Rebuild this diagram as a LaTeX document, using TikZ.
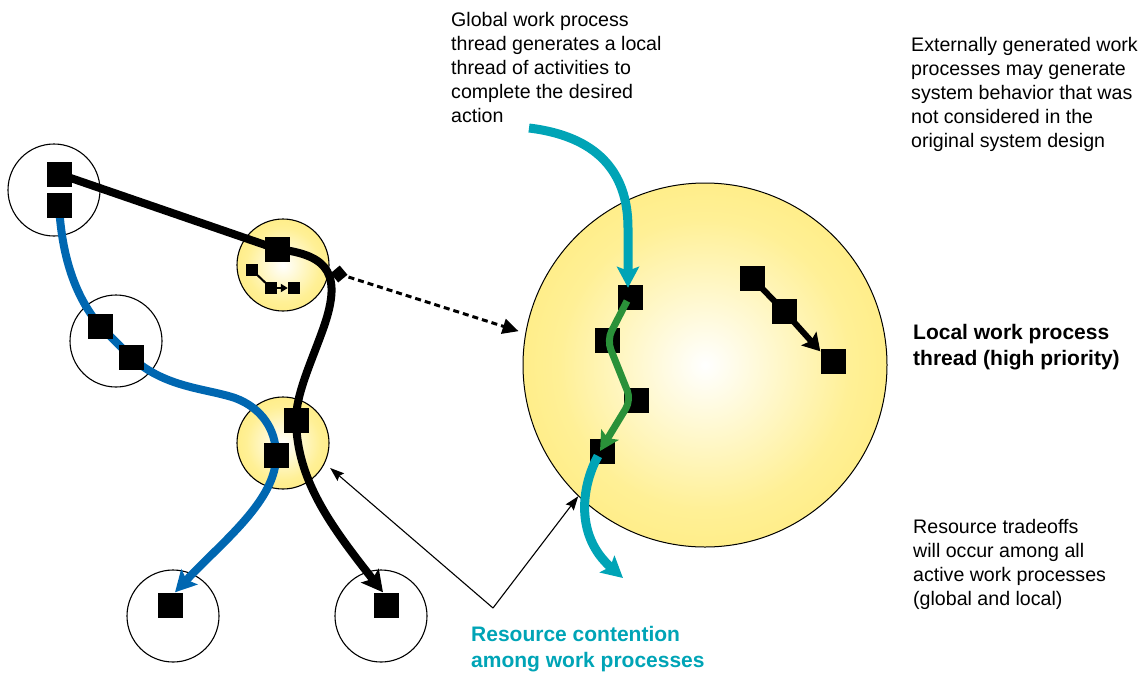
\documentclass[tikz,border=0pt]{standalone}
\usepackage{fontspec}
\setmainfont{Liberation Sans}
\usetikzlibrary{arrows.meta}
\definecolor{tealc}{RGB}{0,164,182}
\definecolor{bluec}{RGB}{0,103,177}
\definecolor{greenc}{RGB}{42,145,57}
\definecolor{yelc}{RGB}{255,228,85}
\definecolor{yelm}{RGB}{255,240,150}
\pgfdeclareradialshading{ysh}{\pgfpoint{0bp}{0bp}}{color(0bp)=(white); color(20bp)=(yelm); color(47bp)=(yelc); color(50bp)=(yelc)}
\pgfdeclarelayer{bg}
\pgfdeclarelayer{mid}
\pgfsetlayers{bg,mid,main}
\begin{document}
\begin{tikzpicture}[x=1pt,y=-1pt,
  ring/.style={circle, draw=black, line width=1.1pt, minimum size=92pt, inner sep=0pt},
  yring/.style={ring, shading=ysh},
  sq/.style={rectangle, fill=black, minimum size=25pt, inner sep=0pt},
  ssq/.style={rectangle, fill=black, minimum size=12pt, inner sep=0pt},
  blk/.style={line width=8pt, draw=black},
  blu/.style={line width=8pt, draw=bluec},
  tea/.style={line width=9pt, draw=tealc},
  grn/.style={line width=7pt, draw=greenc},
  bigtip/.style={-{Stealth[length=21pt,width=22pt,inset=4pt]}},
  thinarrow/.style={line width=1.1pt, -{Stealth[length=14pt,width=10pt,inset=2pt]}},
  txt/.style={anchor=north west, inner sep=0pt, align=left, font=\fontsize{19.6}{24}\selectfont},
  btxt/.style={anchor=north west, inner sep=0pt, align=left, font=\fontsize{21}{26}\selectfont\bfseries},
]
\useasboundingbox (0,0) rectangle (1143,673);

% circles
\begin{pgfonlayer}{bg}
\node[ring] (c1) at (54,190) {};
\node[ring] (c2) at (116,341) {};
\node[yring] (ca) at (283,265) {};
\node[yring] (cb) at (283,443) {};
\node[ring] (c3) at (173,616) {};
\node[ring] (c4) at (381,616) {};
\node[circle, draw=black, line width=1pt, shading=ysh, minimum size=364pt, inner sep=0pt] (big) at (705,365) {};
\end{pgfonlayer}

% left squares
\node[sq] (q1) at (59,174) {};
\node[sq] (q2) at (59,205) {};
\node[sq] (q3) at (100,326) {};
\node[sq] (q4) at (131,357) {};
\node[sq] (qa) at (277,249) {};
\node[ssq] (sa1) at (252,270) {};
\node[ssq] (sa2) at (271,288) {};
\node[ssq] (sa3) at (294,288) {};
\node[sq] (qb1) at (296,420) {};
\node[sq] (qb2) at (276,455) {};
\node[sq] (q5) at (170,605) {};
\node[sq] (q6) at (386,605) {};

% right squares
\node[sq] (s1) at (630,297) {};
\node[sq] (s2) at (607,340) {};
\node[sq] (s3) at (636,400) {};
\node[sq] (s4) at (602,451) {};
\node[sq] (r1) at (752,278) {};
\node[sq] (r2) at (784,311) {};
\node[sq] (r3) at (833,361) {};

% left threads (under squares)
\begin{pgfonlayer}{mid}
\draw[blk] (q1.center) -- (qa.center);
\draw[blk, bigtip] (qa.center) .. controls (330,255) and (343,275) .. (322,332)
  .. controls (310,365) and (296,395) .. (qb1.center)
  .. controls (297,480) and (330,525) .. ([xshift=-3pt]q6.north);
\draw[blu, bigtip] (q2.center) .. controls (62,262) and (78,300) .. (q3.center) -- (q4.center)
  .. controls (165,388) and (205,388) .. (235,398)
  .. controls (262,408) and (276,430) .. (qb2.center)
  .. controls (277,500) and (222,542) .. ([xshift=5pt]q5.north);
\end{pgfonlayer}

% small thread inside circle A
\draw[line width=2pt] (sa1.center) -- (sa2.center);
\draw[line width=2pt, -{Triangle[length=7pt,width=8pt]}] (sa2.east) -- (sa3.west);

% diamond and dotted arrow
\node[rectangle, fill=black, minimum size=12pt, inner sep=0pt, rotate=40] (dia) at (339,274) {};
\draw[line width=3pt, dash pattern=on 6pt off 4pt, shorten >=7pt, -{Triangle[length=16pt,width=15pt]}] (dia.center) -- (big.170);

% right local thread
\draw[line width=6pt] (r1.center) -- (r2.center);
\draw[line width=6pt, -{Stealth[length=17pt,width=20pt,inset=3pt]}] (r2.center) -- ([yshift=-3pt]r3.north west);

% global thread through big circle
\coordinate (tst) at (529,128);
\coordinate (tend) at (623,578);
\draw[tea, bigtip] (tst) .. controls (595,136) and (628,170) .. (628,228) -- ([xshift=-2pt,yshift=-3.5pt]s1.north);
\draw[grn, rounded corners=10pt, -{Stealth[length=19pt,width=20pt,inset=4pt]}] ([xshift=-3pt,yshift=-4pt]s1.center) -- (s2.center) -- ([xshift=-5pt]s3.center) -- ([xshift=-2pt]s4.center);
\draw[tea, bigtip] ([xshift=-4pt,yshift=-5pt]s4.center) .. controls (582,485) and (574,535) .. (tend);

% contention arrows
\coordinate (apex) at (493,608);
\draw[thinarrow, shorten >=7pt] (apex) -- (cb.-26);
\draw[thinarrow] (apex) -- (big.-134);

% texts
\node[txt] (tg) at (451,12) {Global work process\\thread generates a local\\thread of activities to\\complete the desired\\action};
\node[txt] (te) at (911,37) {Externally generated work\\processes may generate\\system behavior that was\\not considered in the\\original system design};
\node[btxt] (tl) at (913,324) {Local work process\\thread (high priority)};
\node[txt] (tr) at (913,519) {Resource tradeoffs\\will occur among all\\active work processes\\(global and local)};
\node[btxt, text=tealc] (tc) at (471,626) {Resource contention\\among work processes};
\end{tikzpicture}
\end{document}
